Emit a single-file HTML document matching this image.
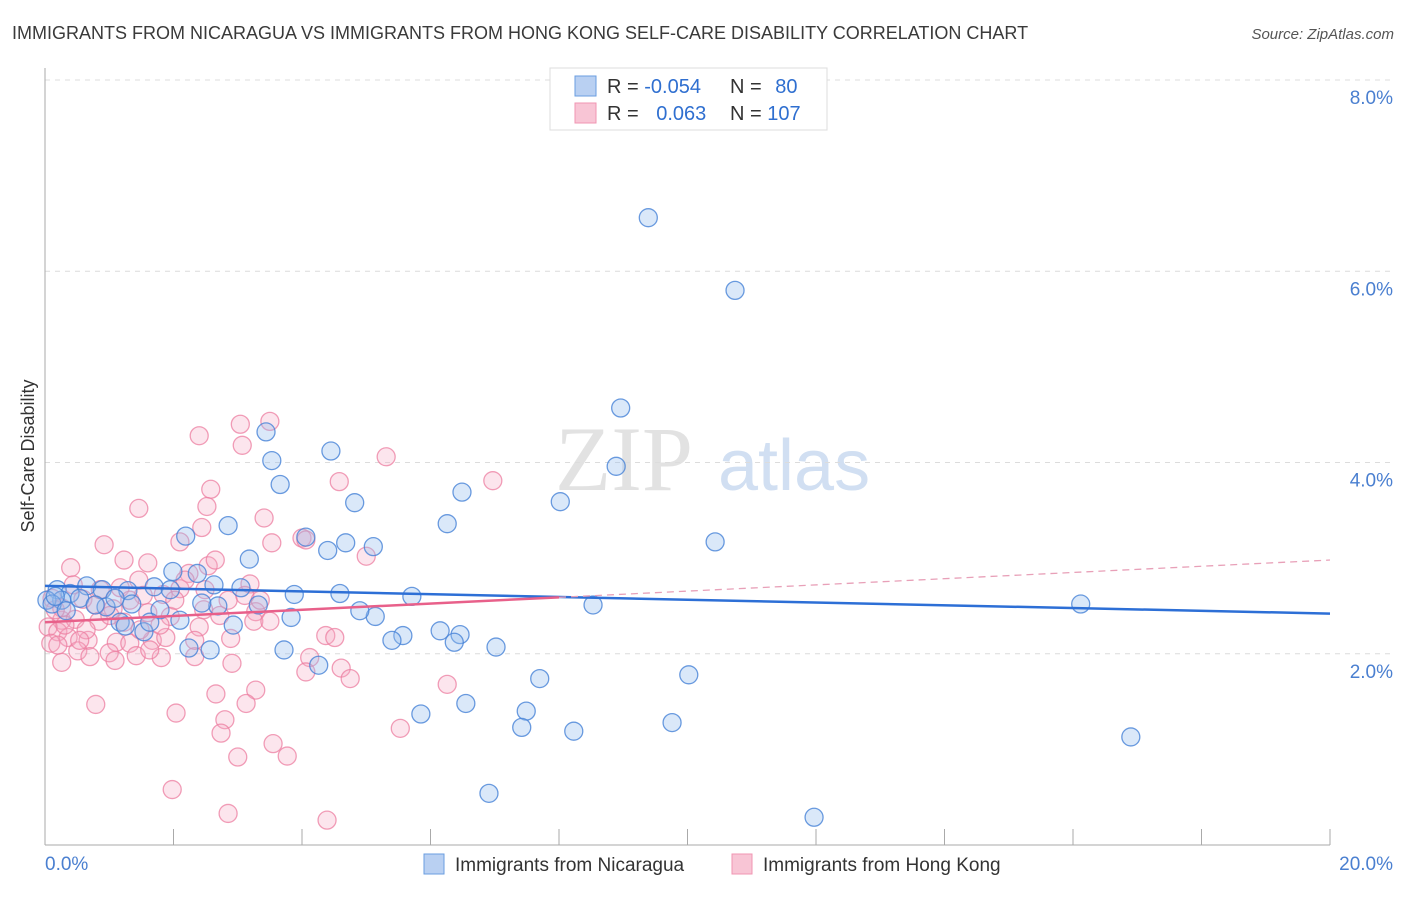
<!DOCTYPE html>
<html><head><meta charset="utf-8"><style>
body{margin:0;background:#fff;font-family:"Liberation Sans",sans-serif;}
</style></head><body>
<svg id="chart" width="1406" height="892" viewBox="0 0 1406 892" font-family="Liberation Sans, sans-serif">
<text x="12" y="39" font-size="18" fill="#3a3a3a">IMMIGRANTS FROM NICARAGUA VS IMMIGRANTS FROM HONG KONG SELF-CARE DISABILITY CORRELATION CHART</text>
<text x="1394" y="39" font-size="15" fill="#555" font-style="italic" text-anchor="end">Source: ZipAtlas.com</text>
<g>
<text x="555" y="490" font-size="92" fill="#dcdcdc" font-family="Liberation Serif, serif" opacity="0.8">ZIP</text>
<text x="718" y="490" font-size="72" fill="#c6d8ef" opacity="0.8">atlas</text>
</g>
<g id="grid"></g>
<g id="axes"></g>
<g id="lines"></g>
<g id="pts"></g>
<text transform="translate(34,456) rotate(-90)" font-size="18" fill="#333" text-anchor="middle">Self-Care Disability</text>
<g>
<rect x="550" y="68" width="277" height="62" fill="#fff" stroke="#ddd"/>
<rect x="575" y="76" width="21" height="20" fill="#b9d0f2" stroke="#6a9ee0"/>
<rect x="575" y="103" width="21" height="20" fill="#f8c5d5" stroke="#f095b2"/>
<text x="607" y="93" font-size="20" fill="#333">R = <tspan fill="#2f6fd0">-0.054</tspan></text>
<text x="730" y="93" font-size="20" fill="#333">N = <tspan fill="#2f6fd0" dx="8">80</tspan></text>
<text x="607" y="120" font-size="20" fill="#333">R = <tspan fill="#2f6fd0" dx="12">0.063</tspan></text>
<text x="730" y="120" font-size="20" fill="#333">N = <tspan fill="#2f6fd0">107</tspan></text>
</g>
<g>
<rect x="424" y="854" width="20" height="20" fill="#b9d0f2" stroke="#6a9ee0"/>
<text x="455" y="871" font-size="19" fill="#333">Immigrants from Nicaragua</text>
<rect x="732" y="854" width="20" height="20" fill="#f8c5d5" stroke="#f095b2"/>
<text x="763" y="871" font-size="19" fill="#333">Immigrants from Hong Kong</text>
</g>
</svg>
<script>
const yTicks=[2,4,6,8];
const yTickLabels=["2.0%","4.0%","6.0%","8.0%"];
const xTicks=[0,2,4,6,8,10,12,14,16,18,20];
const blueX=[9.39,10.74,8.96,3.44,4.45,3.53,8.89,3.66,6.49,4.82,8.02,6.26,2.85,2.19,4.06,10.43,4.68,5.11,4.40,3.18,1.99,2.37,1.70,2.63,3.05,3.88,4.59,5.71,0.65,0.89,0.19,0.39,1.29,0.26,0.95,1.35,2.69,2.44,3.32,8.53,16.12,1.79,2.10,3.83,5.14,4.90,1.17,1.25,0.03,0.11,2.93,1.54,6.15,6.46,5.57,5.40,6.37,2.24,2.57,3.72,7.02,4.26,7.70,10.02,6.55,5.85,7.49,9.76,7.42,8.23,16.90,6.91,11.97,0.54,0.78,0.33,1.63,1.09,1.95,0.16];
const blueY=[6.56,5.80,4.57,4.32,4.12,4.02,3.96,3.77,3.69,3.58,3.59,3.36,3.34,3.23,3.22,3.17,3.16,3.12,3.08,2.99,2.86,2.84,2.70,2.72,2.69,2.62,2.63,2.60,2.71,2.67,2.67,2.63,2.66,2.56,2.49,2.52,2.50,2.53,2.51,2.51,2.52,2.46,2.35,2.38,2.39,2.45,2.33,2.29,2.56,2.52,2.30,2.23,2.24,2.20,2.19,2.14,2.12,2.06,2.04,2.04,2.07,1.88,1.74,1.78,1.48,1.37,1.40,1.28,1.23,1.19,1.13,0.54,0.29,2.58,2.51,2.45,2.33,2.58,2.67,2.60];
const pinkX=[3.50,3.04,2.40,3.07,5.31,6.97,4.58,2.58,1.46,2.52,3.41,2.44,0.92,2.10,3.53,4.00,4.06,5.00,1.23,1.60,0.40,2.54,2.24,1.46,3.19,2.10,1.84,0.11,0.59,0.79,1.06,1.60,1.95,2.47,3.28,0.26,0.47,0.84,1.23,0.05,0.20,0.36,0.67,1.11,1.32,1.67,1.88,2.40,2.89,3.25,3.50,4.37,4.51,0.09,0.51,1.00,1.42,1.81,2.33,2.91,0.26,0.70,4.12,4.61,2.66,3.28,4.06,4.75,6.26,0.79,2.04,3.13,2.80,2.74,5.53,3.55,3.77,3.00,1.98,2.85,4.39,0.26,1.01,1.53,2.18,0.64,1.17,0.16,0.44,1.32,1.79,2.49,2.85,0.31,0.86,1.48,2.02,3.11,0.20,1.63,1.09,0.54,2.33,2.72,3.35,2.65];
const pinkY=[4.43,4.40,4.28,4.18,4.06,3.81,3.80,3.72,3.52,3.54,3.42,3.32,3.14,3.17,3.16,3.21,3.19,3.02,2.98,2.95,2.90,2.92,2.84,2.77,2.73,2.68,2.62,2.58,2.57,2.51,2.47,2.43,2.39,2.46,2.44,2.35,2.36,2.34,2.33,2.28,2.23,2.17,2.14,2.12,2.11,2.14,2.17,2.28,2.16,2.34,2.34,2.19,2.17,2.11,2.03,2.01,1.98,1.96,1.97,1.90,1.91,1.97,1.96,1.85,1.58,1.62,1.81,1.74,1.68,1.47,1.38,1.48,1.31,1.17,1.22,1.06,0.93,0.92,0.58,0.33,0.26,2.48,2.40,2.61,2.77,2.25,2.69,2.46,2.72,2.56,2.30,2.67,2.56,2.30,2.67,2.25,2.56,2.61,2.09,2.04,1.93,2.14,2.14,2.40,2.56,2.98];
const blueTrend=[2.71,2.42];
const pinkTrend=[2.33,2.98];
const pinkSolidEnd=8;

const NS="http://www.w3.org/2000/svg";
const X0=45,X1=1330,Y0=845,YTOP=80;
function sx(v){return X0+(v/20)*(X1-X0);}
function sy(v){return Y0-(v/8)*(Y0-YTOP);}
function mk(tag,attrs,parent){const e=document.createElementNS(NS,tag);for(const k in attrs)e.setAttribute(k,attrs[k]);parent.appendChild(e);return e;}
const grid=document.getElementById('grid'),axes=document.getElementById('axes'),lines=document.getElementById('lines'),pts=document.getElementById('pts');
yTicks.forEach((t,i)=>{
  const l=mk('line',{x1:X0,x2:1393,y1:sy(t),y2:sy(t),stroke:'#dcdcdc','stroke-dasharray':'5,5'},grid);
  
  
  const tx=mk('text',{x:1393,y:sy(t)+24,'font-size':19,fill:'#4a7fd0','text-anchor':'end'},axes);
  tx.textContent=yTickLabels[i];
  
  
});
const ya=mk('line',{x1:X0,x2:X0,y1:68,y2:Y0,stroke:'#aaa'},axes);


const xa=mk('line',{x1:X0,x2:X1,y1:Y0,y2:Y0,stroke:'#aaa'},axes);


xTicks.forEach(t=>{
  const l=mk('line',{x1:sx(t),x2:sx(t),y1:Y0-16,y2:Y0,stroke:'#aaa'},axes);
  
  
});
const xl0=mk('text',{x:45,y:870,'font-size':19,fill:'#4a7fd0'},axes);xl0.textContent='0.0%';


const xl1=mk('text',{x:1393,y:870,'font-size':19,fill:'#4a7fd0','text-anchor':'end'},axes);xl1.textContent='20.0%';



function dot(x,y,fill,stroke,name){
  const c=mk('circle',{cx:sx(x),cy:sy(y),r:9,fill:fill,stroke:stroke,'stroke-width':1.3},pts);
  
  
}
pinkX.forEach((x,i)=>dot(x,pinkY[i],'rgba(246,170,196,0.3)','rgba(236,125,160,0.75)','hongkong-point'));
blueX.forEach((x,i)=>dot(x,blueY[i],'rgba(150,188,238,0.35)','rgba(70,130,215,0.8)','nicaragua-point'));

function tv(tr,x){return tr[0]+(tr[1]-tr[0])*x/20;}
const bl=mk('line',{x1:sx(0),y1:sy(tv(blueTrend,0)),x2:sx(20),y2:sy(tv(blueTrend,20)),stroke:'#2d6fd6','stroke-width':2.5},pts);


const pl=mk('line',{x1:sx(0),y1:sy(tv(pinkTrend,0)),x2:sx(pinkSolidEnd),y2:sy(tv(pinkTrend,pinkSolidEnd)),stroke:'#e8608a','stroke-width':2.5},pts);


const pd=mk('line',{x1:sx(pinkSolidEnd),y1:sy(tv(pinkTrend,pinkSolidEnd)),x2:sx(20),y2:sy(tv(pinkTrend,20)),stroke:'#e8a0b8','stroke-width':1.3,'stroke-dasharray':'7,5'},pts);


</script>
</body></html>
